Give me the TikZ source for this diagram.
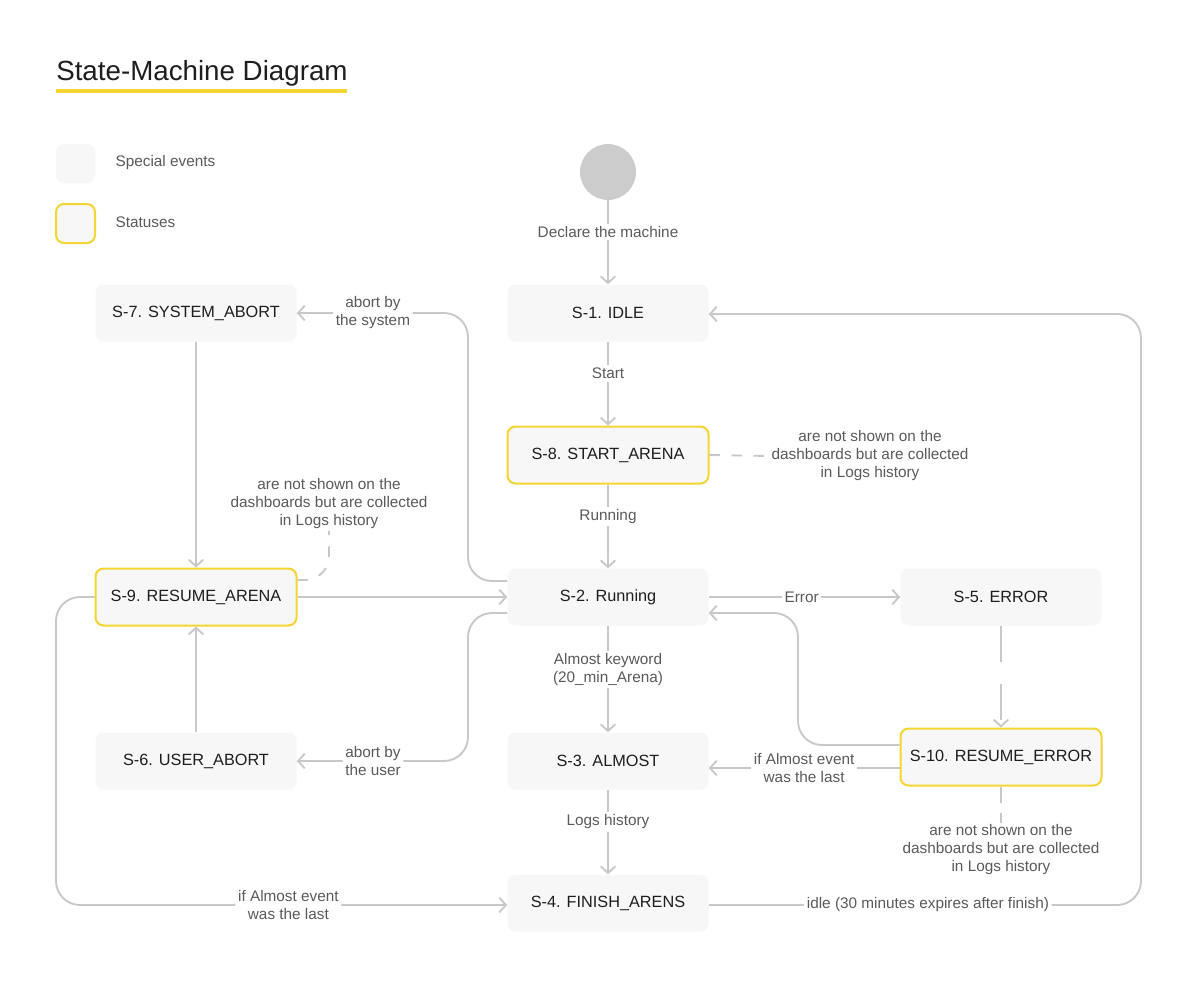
\documentclass[tikz,border=0pt]{standalone}
\usepackage{fontspec}
\setmainfont{Liberation Sans}
\usetikzlibrary{arrows.meta,calc}
\definecolor{ln}{HTML}{C8C8C8}
\definecolor{boxf}{HTML}{F7F7F7}
\definecolor{yel}{HTML}{F5D533}
\definecolor{lbl}{HTML}{5A5A5A}
\definecolor{txt}{HTML}{1E1E1E}
\definecolor{initc}{HTML}{CCCCCC}
\begin{document}
\begin{tikzpicture}[x=0.75pt,y=-0.75pt,
  state/.style={rectangle, rounded corners=6pt, fill=boxf, minimum width=150.75pt, minimum height=42.75pt, inner sep=0pt, text=txt, font=\fontsize{12.2}{14}\selectfont},
  status/.style={state, draw=yel, line width=1.5pt},
  conn/.style={draw=ln, line width=1.4pt, -{Straight Barb[length=5pt,width=11pt,line width=1.4pt]}},
  notedash/.style={draw=ln, line width=1.4pt, dash pattern=on 8pt off 8.5pt},
  longdash/.style={conn, dash pattern=on 27pt off 17pt},
  lab/.style={fill=white, text=lbl, font=\fontsize{11.5}{13.5}\selectfont, align=center, inner sep=2pt},
  note/.style={text=lbl, font=\fontsize{11.5}{13.5}\selectfont, align=center, inner sep=1pt},
  legbox/.style={rectangle, rounded corners=6pt, fill=boxf, minimum size=29.25pt, inner sep=0pt},
  corner/.style={rounded corners=18pt}
]
\useasboundingbox[fill=white] (0,0) rectangle (1200,986);

% title and legend
\node[anchor=base west, inner sep=0pt, text=txt, font=\fontsize{20.8}{25}\selectfont] (title) at (56,80) {State-Machine Diagram};
\coordinate (ul1) at (56,91);
\coordinate (ul2) at (347,91);
\draw[yel, line width=3pt] (ul1) -- (ul2);
\node[legbox] (leg1) at (75.5,163.5) {};
\node[legbox, draw=yel, line width=1.5pt] (leg2) at (75.5,223.5) {};
\node[note, anchor=west] (legt1) at (114,163) {Special events};
\node[note, anchor=west] (legt2) at (114,222) {Statuses};

% states
\node[circle, fill=initc, minimum size=42pt, inner sep=0pt] (init) at (608,172) {};
\node[state]  (S1)  at (608,313) {S-1. IDLE};
\node[status] (S8)  at (608,455) {S-8. START\_ARENA};
\node[state]  (S2)  at (608,597) {S-2. Running};
\node[state]  (S3)  at (608,761) {S-3. ALMOST};
\node[state]  (S4)  at (608,903) {S-4. FINISH\_ARENS};
\node[state]  (S7)  at (196,313) {S-7. SYSTEM\_ABORT};
\node[status] (S9)  at (196,597) {S-9. RESUME\_ARENA};
\node[state]  (S6)  at (196,761) {S-6. USER\_ABORT};
\node[state]  (S5)  at (1001,597) {S-5. ERROR};
\node[status] (S10) at (1001,757) {S-10. RESUME\_ERROR};

% notes
\node[note] (n1) at (870,456) {are not shown on the\\dashboards but are collected\\in Logs history};
\node[note] (n2) at (329,504) {are not shown on the\\dashboards but are collected\\in Logs history};
\node[note] (n3) at (1001,850) {are not shown on the\\dashboards but are collected\\in Logs history};

% bend points
\coordinate (bSys) at (468,313);
\coordinate (bUsr) at (468,761);
\coordinate (bErr) at (798,613);
\coordinate (bL)   at (56,905);
\coordinate (bR1)  at (1141,905);
\coordinate (bR2)  at (1141,314);

% vertical chain
\draw[conn] (init) -- node[lab, pos=0.38] {Declare the machine} (S1);
\draw[conn] (S1) -- node[lab, pos=0.38] {Start} (S8);
\draw[conn] (S8) -- node[lab, pos=0.38] {Running} (S2);
\draw[conn] (S2) -- node[lab, pos=0.41] {Almost keyword\\(20\_min\_Arena)} (S3);
\draw[conn] (S3) -- node[lab, pos=0.38] {Logs history} (S4);

% error branch
\draw[conn] (S2) -- node[lab, pos=0.485] {Error} (S5);
\draw[longdash] (S5) -- (S10);
\draw[conn, corner] ([yshift=9pt]S10.west) -| (bErr) -- ([yshift=-12pt]S2.east);
\draw[conn] ([yshift=-8.25pt]S10.west) -- node[lab, midway] {if Almost event\\was the last} ([yshift=-5.25pt]S3.east);

% left side
\draw[conn, corner] ([yshift=12pt]S2.west) -| (bSys) -- node[lab, pos=0.555] {abort by\\the system} (S7.east);
\draw[conn, corner] ([yshift=-12pt]S2.west) -| (bUsr) -- node[lab, pos=0.555] {abort by\\the user} (S6.east);
\draw[conn] (S9) -- (S2);
\draw[conn] (S6) -- (S9);
\draw[conn] (S7) -- (S9);
\draw[conn, corner] (S9.west) -| (bL) -- node[lab, pos=0.515] {if Almost event\\was the last} ([yshift=-1.5pt]S4.west);

% return to idle
\draw[conn, corner] ([yshift=-1.5pt]S4.east) -- node[lab, pos=0.507] {idle (30 minutes expires after finish)} (bR1) -- (bR2) -- ([yshift=-0.75pt]S1.east);

% dashed notes
\draw[notedash] (S8.east) -- (n1.west);
\draw[notedash, dash pattern=on 12pt off 8pt] (S10.south) -- (n3.north);
\draw[notedash, corner] ([yshift=12.75pt]S9.east) -| (n2.south);
\end{tikzpicture}
\end{document}
